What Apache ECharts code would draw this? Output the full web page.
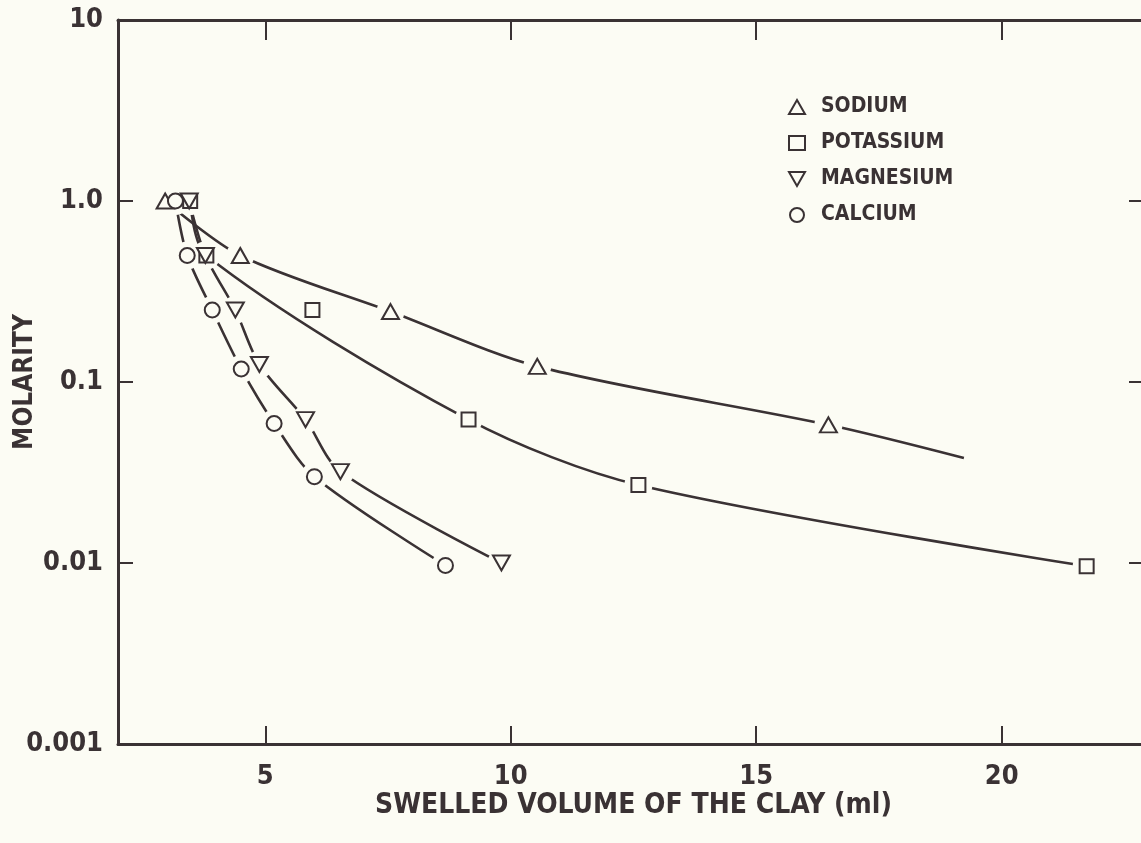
<!DOCTYPE html>
<html>
<head>
<meta charset="utf-8">
<title>Molarity vs swelled volume</title>
<script src="https://cdn.jsdelivr.net/npm/echarts@6/dist/echarts.min.js"></script>
<style>
  html, body { margin: 0; padding: 0; background: #fcfcf4; }
  #chart { width: 1141px; height: 843px; }
</style>
</head>
<body>
<div id="chart"></div>
<script>
// data (x = swelled volume ml, y = molarity)
const sodiumX = [2.96, 4.49, 7.55, 10.54, 16.47];
const sodiumY = [1.0, 0.5, 0.245, 0.122, 0.058];
const sodiumCurveEnd = [19.23, 0.038]; // curve goes on past the last point

const potassiumX = [3.47, 3.8, 5.96, 9.14, 12.6, 21.73];
const potassiumY = [1.0, 0.5, 0.25, 0.062, 0.027, 0.0096];
// the fitted curve runs just under the 0.25 point, not through it
const potassiumOffCurve = [2];

const magnesiumX = [3.45, 3.78, 4.39, 4.88, 5.82, 6.53, 9.81];
const magnesiumY = [1.0, 0.5, 0.25, 0.125, 0.062, 0.032, 0.01];

const calciumX = [3.17, 3.41, 3.92, 4.51, 5.18, 6.0, 8.67];
const calciumY = [1.0, 0.5, 0.25, 0.118, 0.059, 0.03, 0.0097];

const xTicks = [5, 10, 15, 20];
const yTickLabels = ["0.001", "0.01", "0.1", "1.0", "10"];
const seriesNames = ["SODIUM", "POTASSIUM", "MAGNESIUM", "CALCIUM"];

const ink = "#3a3234";
const paper = "#fcfcf4";
const font = '"DejaVu Sans Condensed", "Liberation Sans Narrow", sans-serif';

function pairs(xs, ys) {
  return xs.map((x, i) => [x, ys[i]]);
}

const sets = [
  { name: "SODIUM", pts: pairs(sodiumX, sodiumY), off: [], tail: [sodiumCurveEnd],
    symbol: "triangle", size: [17, 15] },
  { name: "POTASSIUM", pts: pairs(potassiumX, potassiumY), off: potassiumOffCurve, tail: [],
    symbol: "rect", size: [14, 14] },
  { name: "MAGNESIUM", pts: pairs(magnesiumX, magnesiumY), off: [], tail: [],
    symbol: "path://M0,0 L16,0 L8,14 Z", size: [17, 15] },
  { name: "CALCIUM", pts: pairs(calciumX, calciumY), off: [], tail: [],
    symbol: "circle", size: [15, 15] },
];

let series = [];
sets.forEach((s) => {
  // points the drawn curve actually passes through
  const onCurve = s.pts.filter((p, i) => s.off.indexOf(i) < 0);

  // smooth curve
  series.push({
    name: s.name + " curve",
    type: "line",
    data: onCurve.concat(s.tail),
    smooth: 0.3,
    showSymbol: false,
    lineStyle: { color: ink, width: 2.6 },
    z: 1,
    silent: true,
  });
  // paper coloured halo so the curve stops short of each marker
  series.push({
    name: s.name + " halo",
    type: "scatter",
    data: onCurve,
    symbol: "circle",
    symbolSize: 28,
    itemStyle: { color: paper, opacity: 1 },
    z: 2,
    silent: true,
  });
  // open marker
  series.push({
    name: s.name,
    type: "scatter",
    data: s.pts,
    symbol: s.symbol,
    symbolSize: s.size,
    itemStyle: { color: paper, borderColor: ink, borderWidth: 2, opacity: 1 },
    z: 3,
    silent: true,
  });
});

const axisLineStyle = { lineStyle: { color: ink, width: 3 } };

let myChart = echarts.init(document.getElementById("chart"));
myChart.setOption({
  backgroundColor: paper,
  animation: false,
  textStyle: { fontFamily: font },
  grid: { left: 118, top: 20, width: 1031, height: 724, outerBoundsMode: "none", containLabel: false },
  legend: {
    data: seriesNames,
    orient: "vertical",
    left: 788,
    top: 95,
    itemWidth: 16,
    itemHeight: 14,
    itemGap: 12,
    padding: 0,
    selectedMode: false,
    textStyle: {
      fontFamily: font,
      fontSize: 21,
      fontWeight: "bold",
      color: ink,
      lineHeight: 24,
      padding: [0, 0, 0, 11],
    },
  },
  xAxis: [
    {
      type: "value",
      min: 2,
      max: 23,
      position: "bottom",
      name: "SWELLED VOLUME OF THE CLAY (ml)",
      nameLocation: "middle",
      nameGap: 48,
      nameMoveOverlap: false,
      nameTextStyle: { fontFamily: font, fontSize: 28, fontWeight: "bold", color: ink },
      axisLine: axisLineStyle,
      axisTick: { inside: true, length: 18, customValues: xTicks, lineStyle: { color: ink, width: 2 } },
      axisLabel: {
        customValues: xTicks,
        margin: 19,
        fontFamily: font,
        fontSize: 27,
        fontWeight: "bold",
        color: ink,
      },
      splitLine: { show: false },
    },
    {
      type: "value",
      min: 2,
      max: 23,
      position: "top",
      axisLine: axisLineStyle,
      axisTick: { inside: true, length: 20, customValues: xTicks, lineStyle: { color: ink, width: 2 } },
      axisLabel: { show: false },
      splitLine: { show: false },
    },
  ],
  yAxis: [
    {
      type: "log",
      logBase: 10,
      min: 0.001,
      max: 10,
      position: "left",
      name: "MOLARITY",
      nameLocation: "middle",
      nameRotate: 90,
      nameGap: 80,
      nameMoveOverlap: false,
      nameTextStyle: { fontFamily: font, fontSize: 26, fontWeight: "bold", color: ink },
      axisLine: axisLineStyle,
      axisTick: { inside: true, length: 15, lineStyle: { color: ink, width: 2 } },
      axisLabel: {
        margin: 15,
        fontFamily: font,
        fontSize: 27,
        fontWeight: "bold",
        color: ink,
        formatter: (v) => yTickLabels[Math.round(Math.log10(v)) + 3],
      },
      splitLine: { show: false },
    },
    {
      type: "log",
      logBase: 10,
      min: 0.001,
      max: 10,
      position: "right",
      axisLine: axisLineStyle,
      axisTick: { inside: true, length: 20, lineStyle: { color: ink, width: 2 } },
      axisLabel: { show: false },
      splitLine: { show: false },
    },
  ],
  series: series,
});

window.addEventListener("resize", () => {
  myChart.resize();
});
</script>
</body>
</html>
